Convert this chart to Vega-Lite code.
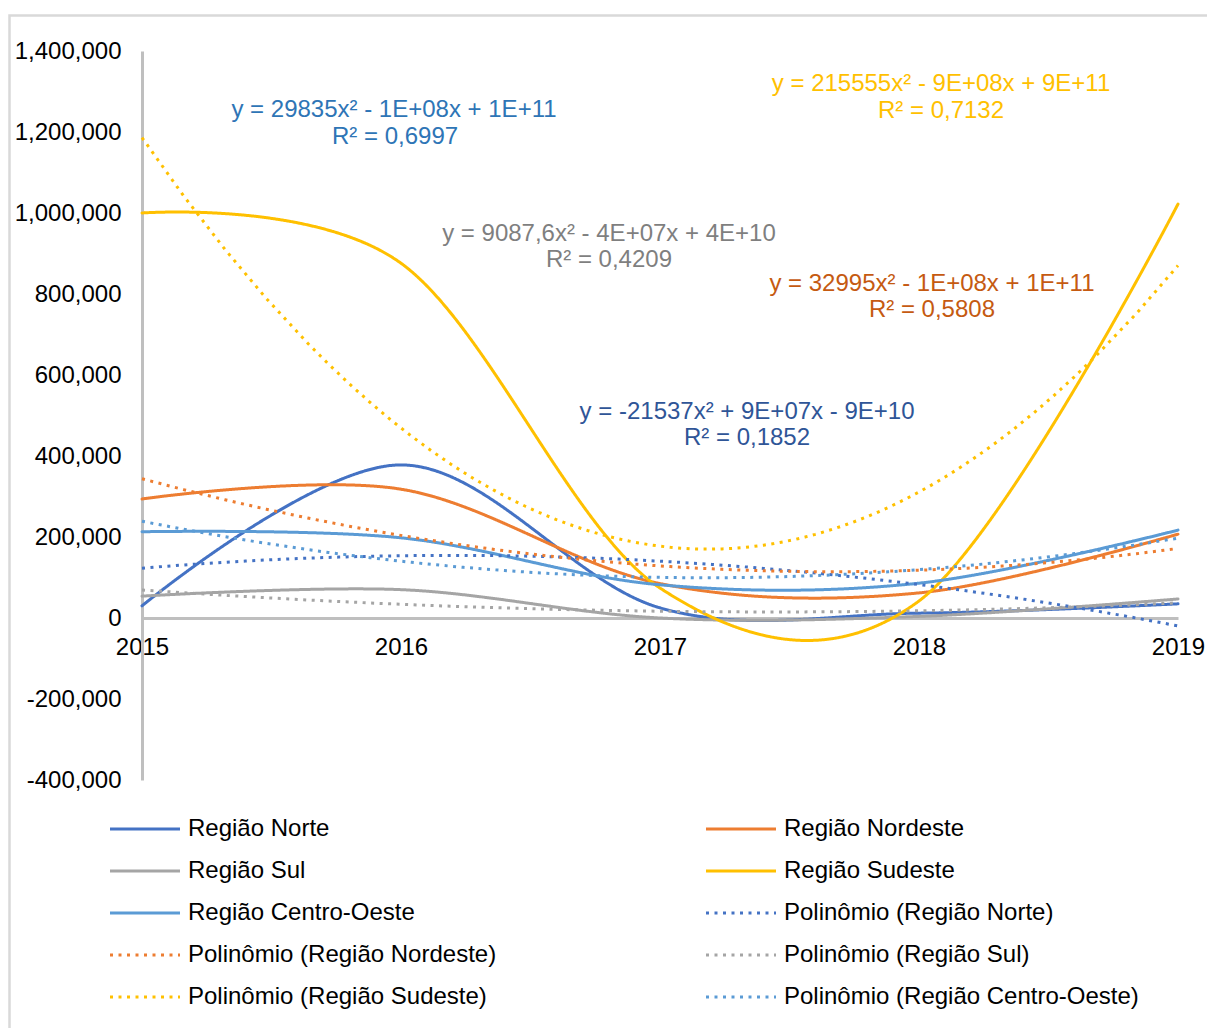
{
  "$schema": "https://vega.github.io/schema/vega-lite/v6.json",
  "width": 1036,
  "height": 729,
  "autosize": {"type": "none"},
  "padding": {"left": 142, "top": 51, "right": 29, "bottom": 248},
  "background": "white",
  "config": {"view": {"stroke": null}, "font": "Liberation Sans"},
  "datasets": {
    "regioes": [
      {"ano": 2015, "valor": 30000, "serie": "Região Norte", "tendencia": "Polinômio (Região Norte)"},
      {"ano": 2016, "valor": 378000, "serie": "Região Norte", "tendencia": "Polinômio (Região Norte)"},
      {"ano": 2017, "valor": 25000, "serie": "Região Norte", "tendencia": "Polinômio (Região Norte)"},
      {"ano": 2018, "valor": 12000, "serie": "Região Norte", "tendencia": "Polinômio (Região Norte)"},
      {"ano": 2019, "valor": 35000, "serie": "Região Norte", "tendencia": "Polinômio (Região Norte)"},
      {"ano": 2015, "valor": 294000, "serie": "Região Nordeste", "tendencia": "Polinômio (Região Nordeste)"},
      {"ano": 2016, "valor": 318000, "serie": "Região Nordeste", "tendencia": "Polinômio (Região Nordeste)"},
      {"ano": 2017, "valor": 85000, "serie": "Região Nordeste", "tendencia": "Polinômio (Região Nordeste)"},
      {"ano": 2018, "valor": 62000, "serie": "Região Nordeste", "tendencia": "Polinômio (Região Nordeste)"},
      {"ano": 2019, "valor": 207000, "serie": "Região Nordeste", "tendencia": "Polinômio (Região Nordeste)"},
      {"ano": 2015, "valor": 54000, "serie": "Região Sul", "tendencia": "Polinômio (Região Sul)"},
      {"ano": 2016, "valor": 70000, "serie": "Região Sul", "tendencia": "Polinômio (Região Sul)"},
      {"ano": 2017, "valor": 0, "serie": "Região Sul", "tendencia": "Polinômio (Região Sul)"},
      {"ano": 2018, "valor": 4000, "serie": "Região Sul", "tendencia": "Polinômio (Região Sul)"},
      {"ano": 2019, "valor": 47000, "serie": "Região Sul", "tendencia": "Polinômio (Região Sul)"},
      {"ano": 2015, "valor": 1000000, "serie": "Região Sudeste", "tendencia": "Polinômio (Região Sudeste)"},
      {"ano": 2016, "valor": 876000, "serie": "Região Sudeste", "tendencia": "Polinômio (Região Sudeste)"},
      {"ano": 2017, "valor": 74000, "serie": "Região Sudeste", "tendencia": "Polinômio (Região Sudeste)"},
      {"ano": 2018, "valor": 42000, "serie": "Região Sudeste", "tendencia": "Polinômio (Região Sudeste)"},
      {"ano": 2019, "valor": 1022000, "serie": "Região Sudeste", "tendencia": "Polinômio (Região Sudeste)"},
      {"ano": 2015, "valor": 213000, "serie": "Região Centro-Oeste", "tendencia": "Polinômio (Região Centro-Oeste)"},
      {"ano": 2016, "valor": 198000, "serie": "Região Centro-Oeste", "tendencia": "Polinômio (Região Centro-Oeste)"},
      {"ano": 2017, "valor": 82000, "serie": "Região Centro-Oeste", "tendencia": "Polinômio (Região Centro-Oeste)"},
      {"ano": 2018, "valor": 86000, "serie": "Região Centro-Oeste", "tendencia": "Polinômio (Região Centro-Oeste)"},
      {"ano": 2019, "valor": 217000, "serie": "Região Centro-Oeste", "tendencia": "Polinômio (Região Centro-Oeste)"}
    ],
    "equacoes": [
      {"serie": "Região Centro-Oeste", "ano": 2015.973, "valor": 1254000, "texto": "y = 29835x² - 1E+08x + 1E+11"},
      {"serie": "Região Centro-Oeste", "ano": 2015.977, "valor": 1188000, "texto": "R² = 0,6997"},
      {"serie": "Região Sudeste", "ano": 2018.085, "valor": 1318000, "texto": "y = 215555x² - 9E+08x + 9E+11"},
      {"serie": "Região Sudeste", "ano": 2018.085, "valor": 1252000, "texto": "R² = 0,7132"},
      {"serie": "Região Sul", "ano": 2016.803, "valor": 948000, "texto": "y = 9087,6x² - 4E+07x + 4E+10"},
      {"serie": "Região Sul", "ano": 2016.803, "valor": 884000, "texto": "R² = 0,4209"},
      {"serie": "Região Nordeste", "ano": 2018.05, "valor": 825000, "texto": "y = 32995x² - 1E+08x + 1E+11"},
      {"serie": "Região Nordeste", "ano": 2018.05, "valor": 760000, "texto": "R² = 0,5808"},
      {"serie": "Região Norte", "ano": 2017.336, "valor": 509000, "texto": "y = -21537x² + 9E+07x - 9E+10"},
      {"serie": "Região Norte", "ano": 2017.336, "valor": 444000, "texto": "R² = 0,1852"}
    ]
  },
  "layer": [
    {
      "data": {"values": [{}]},
      "mark": {"type": "rect", "filled": false, "stroke": "#D9D9D9", "strokeWidth": 2.5, "clip": false},
      "encoding": {
        "x": {"datum": 2014.4884, "type": "quantitative", "scale": {"domain": [2015, 2019], "nice": false, "zero": false}},
        "x2": {"datum": 2019.13},
        "y": {"datum": 1487654, "type": "quantitative", "scale": {"domain": [-400000, 1400000], "nice": false, "zero": false}},
        "y2": {"datum": -1030000}
      }
    },
    {
      "data": {"name": "regioes"},
      "mark": {"type": "line", "interpolate": "cardinal", "strokeWidth": 3, "strokeCap": "round"},
      "encoding": {
        "x": {
          "field": "ano", "type": "quantitative",
          "scale": {"domain": [2015, 2019], "nice": false, "zero": false},
          "axis": {
            "title": null, "values": [2015, 2016, 2017, 2018, 2019], "format": "d",
            "offset": -162, "ticks": false, "grid": false,
            "domainColor": "#BFBFBF", "domainWidth": 3,
            "labelFont": "Liberation Sans", "labelFontSize": 24, "labelColor": "#000000",
            "labelPadding": 17, "labelFlush": false, "labelOverlap": false
          }
        },
        "y": {
          "field": "valor", "type": "quantitative",
          "scale": {"domain": [-400000, 1400000], "nice": false, "zero": false},
          "axis": {
            "title": null,
            "values": [-400000, -200000, 0, 200000, 400000, 600000, 800000, 1000000, 1200000, 1400000],
            "labelExpr": "replace(format(datum.value, ','), '\u2212', '-')",
            "ticks": false, "grid": false,
            "domainColor": "#BFBFBF", "domainWidth": 3,
            "labelFont": "Liberation Sans", "labelFontSize": 24, "labelColor": "#000000",
            "labelPadding": 21
          }
        },
        "color": {
          "field": "serie", "type": "nominal",
          "scale": {
            "domain": ["Região Norte", "Região Nordeste", "Região Sul", "Região Sudeste", "Região Centro-Oeste",
                       "Polinômio (Região Norte)", "Polinômio (Região Nordeste)", "Polinômio (Região Sul)", "Polinômio (Região Sudeste)", "Polinômio (Região Centro-Oeste)"],
            "range": ["#4472C4", "#ED7D31", "#A5A5A5", "#FFC000", "#5B9BD5",
                      "#4472C4", "#ED7D31", "#A5A5A5", "#FFC000", "#5B9BD5"]
          },
          "legend": {
            "title": null, "orient": "none", "legendX": -33.5, "legendY": 766,
            "direction": "horizontal", "columns": 2, "columnPadding": 208, "rowPadding": 18, "padding": 0,
            "symbolType": "stroke", "symbolSize": 4900, "symbolStrokeWidth": 3, "clipHeight": 24,
            "labelFont": "Liberation Sans", "labelFontSize": 24, "labelColor": "#000000",
            "labelOffset": 6.5, "labelLimit": 0
          }
        },
        "strokeDash": {
          "field": "serie", "type": "nominal",
          "scale": {
            "domain": ["Região Norte", "Região Nordeste", "Região Sul", "Região Sudeste", "Região Centro-Oeste",
                       "Polinômio (Região Norte)", "Polinômio (Região Nordeste)", "Polinômio (Região Sul)", "Polinômio (Região Sudeste)", "Polinômio (Região Centro-Oeste)"],
            "range": [[1, 0], [1, 0], [1, 0], [1, 0], [1, 0], [3, 5.5], [3, 5.5], [3, 5.5], [3, 5.5], [3, 5.5]]
          },
          "legend": {
            "title": null, "orient": "none", "legendX": -33.5, "legendY": 766,
            "direction": "horizontal", "columns": 2, "columnPadding": 208, "rowPadding": 18, "padding": 0,
            "symbolType": "stroke", "symbolSize": 4900, "symbolStrokeWidth": 3, "clipHeight": 24,
            "labelFont": "Liberation Sans", "labelFontSize": 24, "labelColor": "#000000",
            "labelOffset": 6.5, "labelLimit": 0
          }
        }
      }
    },
    {
      "data": {"name": "regioes"},
      "transform": [
        {"regression": "valor", "on": "ano", "groupby": ["tendencia"], "method": "poly", "order": 2}
      ],
      "mark": {"type": "line", "strokeWidth": 3, "strokeCap": "butt"},
      "encoding": {
        "x": {"field": "ano", "type": "quantitative"},
        "y": {"field": "valor", "type": "quantitative"},
        "color": {"field": "tendencia", "type": "nominal"},
        "strokeDash": {"field": "tendencia", "type": "nominal"}
      }
    },
    {
      "data": {"name": "equacoes"},
      "mark": {"type": "text", "align": "center", "baseline": "middle", "font": "Liberation Sans", "fontSize": 24},
      "encoding": {
        "x": {"field": "ano", "type": "quantitative"},
        "y": {"field": "valor", "type": "quantitative"},
        "text": {"field": "texto"},
        "fill": {
          "field": "serie", "type": "nominal",
          "scale": {
            "domain": ["Região Norte", "Região Nordeste", "Região Sul", "Região Sudeste", "Região Centro-Oeste"],
            "range": ["#2F5597", "#C55A11", "#7F7F7F", "#FFC000", "#2E75B6"]
          },
          "legend": null
        }
      }
    }
  ]
}
